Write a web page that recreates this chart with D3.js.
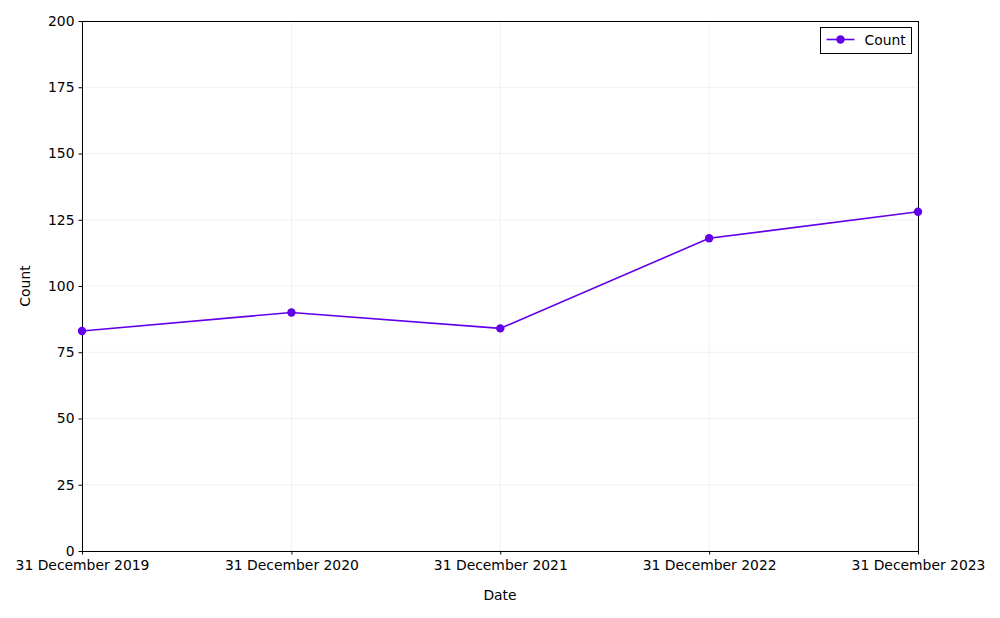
<!DOCTYPE html>
<html>
<head>
<meta charset="utf-8">
<script src="https://cdn.jsdelivr.net/npm/d3@7"></script>
<style>
	body { margin: 0; background: #fff; }
	svg text { font-family: "DejaVu Sans", sans-serif; fill: #000; }
</style>
</head>
<body>
<div id="chart"></div>
<script>
// data
const dates = ["2019-12-31", "2020-12-31", "2021-12-31", "2022-12-31", "2023-12-31"]
const counts = [83, 90, 84, 118, 128]
const yTicks = [0, 25, 50, 75, 100, 125, 150, 175, 200]
const seriesName = "Count"

const width = 1000
const height = 618
const margin = { top: 21, right: 82, bottom: 67, left: 82 }
const lineColor = "#6200ea"
const fontSize = "13.9px"

const parse = d3.timeParse("%Y-%m-%d")
const data = dates.map((d, i) => ({ date: parse(d), value: counts[i] }))

const svg = d3.select("#chart").append("svg")
	.attr("width", width)
	.attr("height", height)

const x = d3.scaleTime()
	.domain(d3.extent(data, d => d.date))
	.range([margin.left, width - margin.right])

const y = d3.scaleLinear()
	.domain([0, 200])
	.range([height - margin.bottom, margin.top])

// grid
const grid = svg.append("g")
grid.selectAll(".gx")
	.data(data)
	.join("line")
	.attr("x1", d => x(d.date)).attr("x2", d => x(d.date))
	.attr("y1", y(0)).attr("y2", y(200))
	.attr("stroke", "#ececec").attr("stroke-width", 0.8)
grid.selectAll(".gy")
	.data(yTicks)
	.join("line")
	.attr("x1", x.range()[0]).attr("x2", x.range()[1])
	.attr("y1", d => y(d)).attr("y2", d => y(d))
	.attr("stroke", "#ececec").attr("stroke-width", 0.8)

// axes
const fmt = d3.timeFormat("%d %B %Y")
const xAxis = svg.append("g")
	.attr("transform", `translate(0, ${y(0)})`)
	.call(d3.axisBottom(x).tickValues(data.map(d => d.date)).tickFormat(fmt).tickSize(3.5).tickPadding(6))
const yAxis = svg.append("g")
	.attr("transform", `translate(${margin.left}, 0)`)
	.call(d3.axisLeft(y).tickValues(yTicks).tickSize(3.5).tickPadding(4))

for (const ax of [xAxis, yAxis]) {
	ax.selectAll("text").style("font-size", fontSize).attr("fill", "#000")
	ax.selectAll("line").attr("stroke", "#000").attr("stroke-width", 1)
	ax.select(".domain").remove()
}

// frame
svg.append("rect")
	.attr("x", margin.left + 0.5).attr("y", margin.top + 0.5)
	.attr("width", width - margin.left - margin.right)
	.attr("height", height - margin.top - margin.bottom)
	.attr("fill", "none").attr("stroke", "#000").attr("stroke-width", 1)

// line and markers
const line = d3.line().x(d => x(d.date)).y(d => y(d.value))
svg.append("path")
	.datum(data)
	.attr("d", line)
	.attr("fill", "none")
	.attr("stroke", lineColor)
	.attr("stroke-width", 1.6)

svg.selectAll(".pt")
	.data(data)
	.join("circle")
	.attr("cx", d => x(d.date))
	.attr("cy", d => y(d.value))
	.attr("r", 4.2)
	.attr("fill", lineColor)

// axis labels
svg.append("text")
	.attr("x", (x.range()[0] + x.range()[1]) / 2)
	.attr("y", 600)
	.attr("text-anchor", "middle")
	.style("font-size", fontSize)
	.text("Date")
svg.append("text")
	.attr("transform", `translate(30, ${(y.range()[0] + y.range()[1]) / 2}) rotate(-90)`)
	.attr("text-anchor", "middle")
	.style("font-size", fontSize)
	.text("Count")

// legend
const lg = svg.append("g").attr("transform", "translate(820.5, 27.5)")
lg.append("rect")
	.attr("width", 91).attr("height", 26)
	.attr("fill", "#fff").attr("stroke", "#000").attr("stroke-width", 1)
lg.append("line")
	.attr("x1", 6).attr("x2", 34).attr("y1", 12).attr("y2", 12)
	.attr("stroke", lineColor).attr("stroke-width", 1.6)
lg.append("circle")
	.attr("cx", 20).attr("cy", 12).attr("r", 4.2)
	.attr("fill", lineColor)
lg.append("text")
	.attr("x", 44).attr("y", 17)
	.style("font-size", fontSize)
	.text(seriesName)
</script>
</body>
</html>
